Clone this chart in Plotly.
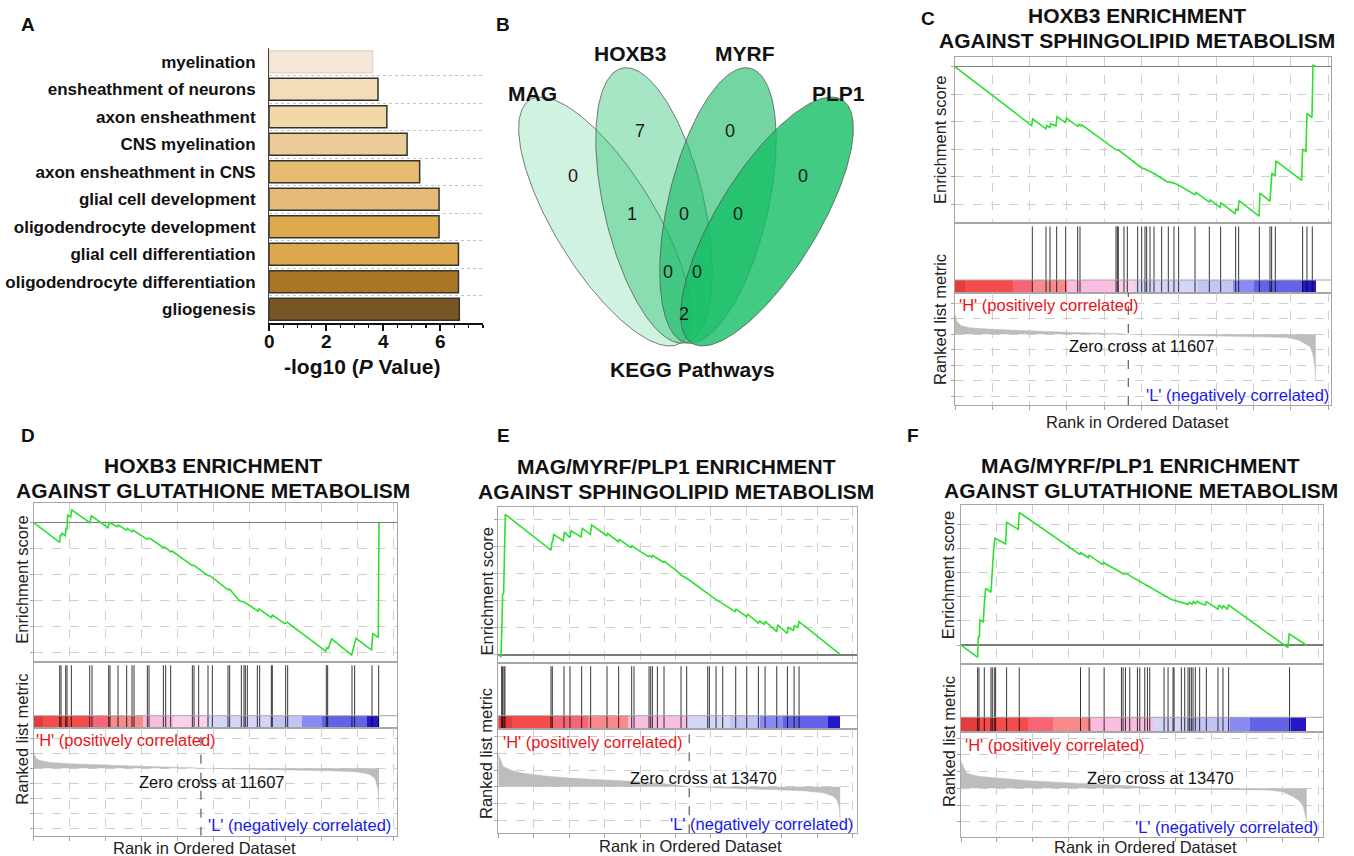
import numpy as np
import plotly.graph_objects as go

W, H = 1354, 856
FONT = "Liberation Sans, Arial, Helvetica, sans-serif"

# ---------------- Panel A data ----------------
go_terms = ["myelination", "ensheathment of neurons", "axon ensheathment", "CNS myelination",
            "axon ensheathment in CNS", "glial cell development", "oligodendrocyte development",
            "glial cell differentiation", "oligodendrocyte differentiation", "gliogenesis"]
go_neglog10p = [3.63, 3.82, 4.13, 4.84, 5.28, 5.96, 5.96, 6.64, 6.64, 6.67]
go_colors = ["#f6e8d8", "#f3ddb9", "#f2d7a8", "#ebcc98", "#e7bb72", "#e4bc78",
             "#dea94e", "#dda84c", "#a97625", "#7a5524"]
go_edges = ["#e6d6c6", "#333333", "#333333", "#333333", "#333333", "#333333",
            "#333333", "#333333", "#333333", "#333333"]
go_xticks = [0, 2, 4, 6]

# ---------------- Panel B data ----------------
venn_sets = ["MAG", "HOXB3", "MYRF", "PLP1"]
venn_counts = [0, 7, 0, 0, 1, 0, 0, 0, 0, 2]

# ---------------- GSEA colour bar palette ----------------
PALETTE = ["#e23c3c", "#f44b4b", "#f66676", "#f98a8b", "#f8bde0", "#fbd1ea",
           "#d5d5f8", "#c3c3f5", "#8a8af5", "#6363e8", "#2618c8"]

# ---------------- Panel C ----------------
C_es_rank = [0, 5136, 5203, 6096, 6141, 6364, 6409, 6766, 6833, 7391, 7458, 8217, 8284, 8418, 8485,
             10785, 10942, 12505, 12728, 13331, 14180, 14671, 14983, 16078, 16145, 17038, 17105,
             17752, 17819, 18757, 18824, 18958, 19025, 20365, 20432, 21102, 21169, 21236, 21437,
             21504, 23223, 23290, 23514, 23581, 23916, 23983, 24162]
C_es = [0, -0.214, -0.190, -0.226, -0.214, -0.221, -0.207, -0.215, -0.182, -0.203, -0.187, -0.217,
        -0.209, -0.215, -0.211, -0.302, -0.302, -0.368, -0.372, -0.388, -0.417, -0.423, -0.431,
        -0.465, -0.457, -0.492, -0.484, -0.511, -0.495, -0.534, -0.516, -0.523, -0.487, -0.543,
        -0.459, -0.489, -0.435, -0.386, -0.399, -0.342, -0.413, -0.301, -0.308, -0.170, -0.185,
        0.005, 0.002]
C_hits = [5181, 6096, 6364, 6811, 7414, 8218, 8374, 10786, 10875, 10942, 11321, 11545, 12237, 12505,
          12728, 12840, 13063, 13331, 13845, 14291, 14671, 14983, 16078, 17038, 17797, 18802, 19003,
          20388, 21102, 21213, 21459, 23290, 23581, 23938]
C_cb_edges = [0, 670, 3908, 5136, 7525, 10718, 12058, 16301, 18646, 20030, 23223, 24162]
C_cb_idx = [0, 1, 2, 3, 4, 5, 6, 7, 8, 9, 10]
C_met_rank = [0, 150, 400, 1000, 2500, 5000, 8000, 11000, 11607, 14000, 18000, 21000, 22200, 23000,
              23800, 24000, 24100, 24166]
C_met = [0.65, 0.40, 0.28, 0.21, 0.16, 0.11, 0.06, 0.02, 0, -0.02, -0.05, -0.09, -0.10, -0.18,
         -0.40, -0.70, -1.0, -1.5]
C_zero_cross = 11607

# ---------------- Panel D ----------------
D_es_rank = [0, 1804, 1850, 1920, 1966, 2197, 2244, 2313, 2359, 2567, 2637, 3886, 4001, 5158, 5251,
             5806, 5875, 6430, 6500, 6823, 6893, 7055, 7864, 7980, 8165, 8974, 9090, 9506, 9599,
             11010, 11102, 12097, 12213, 13485, 13600, 14294, 14526, 14641, 15566, 15636, 16492,
             16561, 17417, 17602, 17718, 20262, 20331, 20424, 20678, 22066, 22367, 23454, 23523,
             23916, 23962]
D_es = [0, -0.076, -0.047, -0.051, -0.041, -0.050, -0.022, -0.024, 0.029, 0.022, 0.049, 0.000, 0.026,
        -0.019, 0.001, -0.015, -0.009, -0.029, -0.022, -0.035, -0.028, -0.035, -0.063, -0.060, -0.064,
        -0.095, -0.094, -0.112, -0.109, -0.165, -0.163, -0.204, -0.203, -0.258, -0.256, -0.301,
        -0.304, -0.306, -0.340, -0.332, -0.365, -0.355, -0.388, -0.383, -0.388, -0.494, -0.479,
        -0.486, -0.447, -0.509, -0.445, -0.490, -0.426, -0.442, 0.000]
D_hits = [1804, 1897, 2220, 2313, 2614, 3886, 4048, 5204, 5297, 5852, 6453, 6823, 6962, 7887, 8003,
          8998, 9159, 9506, 11010, 11126, 11449, 12097, 12398, 13485, 13600, 14410, 14595, 14688,
          14826, 15520, 15682, 16492, 16561, 17486, 17625, 20308, 20401, 22089, 22274, 23477, 23940]
D_cb_edges = [0, 671, 3909, 5297, 7610, 9692, 12004, 16399, 18597, 19984, 23107, 23962]
D_cb_idx = [0, 1, 2, 3, 4, 5, 6, 7, 8, 9, 10]
D_met_rank = [0, 150, 400, 1000, 2500, 5000, 8000, 11000, 11607, 14000, 18000, 21000, 22500, 23300,
              23700, 23900, 23962]
D_met = [0.52, 0.35, 0.27, 0.20, 0.15, 0.10, 0.06, 0.02, 0, -0.02, -0.05, -0.09, -0.12, -0.20,
         -0.35, -0.70, -1.45]
D_zero_cross = 11607

# ---------------- Panel E ----------------
E_es_rank = [0, 188, 259, 306, 376, 447, 494, 3718, 3788, 3835, 3906, 4588, 4659, 5059, 5130, 5835,
             5930, 6494, 6588, 7647, 7718, 8471, 8541, 9365, 9436, 9600, 10589, 10706, 10824, 10894,
             11647, 11741, 12589, 12942, 13294, 14824, 14942, 15295, 16706, 16777, 17530, 17600,
             18353, 18424, 18777, 18848, 19648, 19719, 20378, 20448, 20824, 20895, 21130, 21224, 24118]
E_es = [0, -0.006, 0.111, 0.224, 0.228, 0.430, 0.519, 0.387, 0.418, 0.416, 0.445, 0.421, 0.453, 0.433,
        0.458, 0.435, 0.467, 0.445, 0.480, 0.440, 0.448, 0.418, 0.426, 0.396, 0.403, 0.396, 0.363,
        0.367, 0.360, 0.367, 0.342, 0.344, 0.310, 0.293, 0.283, 0.224, 0.221, 0.207, 0.160, 0.169,
        0.141, 0.150, 0.117, 0.125, 0.113, 0.123, 0.086, 0.111, 0.079, 0.101, 0.090, 0.108, 0.101,
        0.123, 0.002]
E_hits = [235, 306, 400, 471, 3718, 3812, 4635, 5059, 5883, 6518, 7671, 8494, 9412, 9577, 10636,
          10753, 10871, 11224, 11694, 12894, 13294, 14777, 14894, 15365, 15836, 16753, 17530, 18353,
          18824, 19648, 20401, 20871, 21224]
E_cb_edges = [0, 941, 3765, 6353, 9177, 13294, 16353, 18471, 20118, 23295, 24118]
E_cb_idx = [0, 1, 2, 3, 4, 6, 7, 8, 9, 10]
E_met_rank = [0, 70, 350, 1000, 1765, 3500, 5300, 7500, 10000, 12000, 13470, 16000, 19400, 21500,
              22900, 23600, 23900, 24050, 24124]
E_met = [1.0, 0.9, 0.6, 0.48, 0.4, 0.31, 0.25, 0.2, 0.15, 0.08, 0, -0.04, -0.08, -0.12, -0.18, -0.28,
         -0.4, -0.6, -1.0]
E_zero_cross = 13470

# ---------------- Panel F ----------------
F_es_rank = [0, 1165, 1212, 1282, 1328, 1561, 1631, 1724, 2097, 2190, 2283, 2377, 3122, 3192, 4008,
             4078, 8318, 8388, 8901, 8971, 9879, 9996, 10112, 11114, 11347, 11697, 11813, 14726,
             15075, 15891, 15984, 16170, 16263, 16403, 16543, 16706, 17102, 17172, 17988, 18058,
             18291, 18360, 18640, 18733, 22881, 22974, 24162]
F_es = [0, -0.051, 0.035, 0.032, 0.104, 0.097, 0.169, 0.235, 0.219, 0.335, 0.394, 0.443, 0.419, 0.509,
        0.480, 0.550, 0.376, 0.383, 0.362, 0.373, 0.335, 0.343, 0.337, 0.304, 0.295, 0.295, 0.288,
        0.189, 0.183, 0.169, 0.177, 0.169, 0.180, 0.172, 0.181, 0.174, 0.166, 0.180, 0.149, 0.166,
        0.152, 0.163, 0.149, 0.166, -0.011, 0.046, 0.000]
F_hits = [1165, 1258, 1631, 2097, 2190, 2330, 2423, 3192, 4078, 8365, 8971, 10019, 11231, 11347,
          11510, 11813, 12349, 12512, 12862, 13048, 13211, 14213, 14493, 14842, 14912, 15425, 15658,
          15891, 16007, 16124, 16240, 16403, 16706, 17172, 17988, 18337, 18733, 22997]
F_cb_edges = [0, 1095, 4707, 6454, 9134, 13444, 15891, 18803, 20201, 23114, 24162]
F_cb_idx = [0, 1, 2, 3, 4, 6, 7, 8, 9, 10]
F_met_rank = [0, 47, 397, 1200, 2730, 5000, 7397, 10000, 12063, 13470, 16000, 19000, 21397, 22500,
              23263, 23700, 23963, 24197]
F_met = [0.8, 0.75, 0.45, 0.36, 0.3, 0.22, 0.17, 0.12, 0.07, 0, -0.03, -0.04, -0.05, -0.1, -0.25,
         -0.38, -0.55, -1.0]
F_zero_cross = 13470

titles = {
    "C": ["HOXB3 ENRICHMENT", "AGAINST SPHINGOLIPID METABOLISM"],
    "D": ["HOXB3 ENRICHMENT", "AGAINST GLUTATHIONE METABOLISM"],
    "E": ["MAG/MYRF/PLP1 ENRICHMENT", "AGAINST SPHINGOLIPID METABOLISM"],
    "F": ["MAG/MYRF/PLP1 ENRICHMENT", "AGAINST GLUTATHIONE METABOLISM"],
}

# ====================== layout helpers ======================
def fx(px):
    return px / W


def fy(py):
    return 1 - py / H


layout = {}
traces = []
shapes = []
annotations = []
axis_id = [0]


def add_axes(l, r, t, b, xkw, ykw):
    axis_id[0] += 1
    n = axis_id[0]
    s = "" if n == 1 else str(n)
    layout["xaxis" + s] = dict(domain=[fx(l), fx(r)], anchor="y" + s, **xkw)
    layout["yaxis" + s] = dict(domain=[fy(b), fy(t)], anchor="x" + s, **ykw)
    return "x" + s, "y" + s


def ann(text, px, py, size, color="#111111", xanchor="center", yanchor="middle", angle=0):
    annotations.append(dict(text=text, x=fx(px), y=fy(py), xref="paper", yref="paper",
                            xanchor=xanchor, yanchor=yanchor, showarrow=False, textangle=angle,
                            font=dict(family=FONT, size=size, color=color)))


# ====================== Panel A ======================
xa, ya = add_axes(269, 483, 48, 323,
                  dict(range=[0, 7.5], showline=True, linecolor="#111111", linewidth=2,
                       ticks="outside", ticklen=6, tickwidth=2, tickcolor="#111111",
                       tickvals=go_xticks, showticklabels=False, showgrid=False, zeroline=False,
                       minor=dict(ticks="outside", ticklen=3, tickwidth=1.2, tickcolor="#111111",
                                  tick0=0, dtick=0.5, showgrid=False)),
                  dict(range=[9.5, -0.5], showline=True, linecolor="#444444", linewidth=1,
                       tickvals=list(range(len(go_terms))), ticktext=go_terms,
                       ticks="outside", ticklen=9, tickcolor="rgba(0,0,0,0)",
                       showgrid=False, zeroline=False,
                       tickfont=dict(family=FONT, size=17, color="#111111", weight="bold"),
                       minor=dict(tickvals=[i + 0.5 for i in range(len(go_terms) - 1)],
                                  showgrid=True, gridcolor="#c4c4c4", griddash="dot", gridwidth=1)))
traces.append(go.Bar(x=go_neglog10p, y=list(range(len(go_terms))), orientation="h", width=0.8,
                     marker=dict(color=go_colors, line=dict(color=go_edges, width=1.5)),
                     xaxis=xa, yaxis=ya, hoverinfo="skip"))
for t in go_xticks:
    annotations.append(dict(text="<b>%d</b>" % t, x=t, y=fy(341.5), xref=xa, yref="paper",
                            xanchor="center", yanchor="middle", showarrow=False,
                            font=dict(family=FONT, size=19, color="#111111")))
ann("<b>-log10 (<i>P</i> Value)</b>", 361.7, 366.7, 21)
ann("<b>A</b>", 28, 25, 19)

# ====================== Panel B (Venn) ======================
xa, ya = add_axes(490, 900, 40, 390,
                  dict(range=[490, 900], visible=False, fixedrange=True),
                  dict(range=[390, 40], visible=False, fixedrange=True))


def ellipse(cx, cy, a, b, ang_deg, n=240):
    t = np.linspace(0, 2 * np.pi, n)
    th = np.radians(ang_deg)
    x = cx + a * np.cos(t) * np.cos(th) - b * np.sin(t) * np.sin(th)
    y = cy + a * np.cos(t) * np.sin(th) + b * np.sin(t) * np.cos(th)
    return x, y


venn_geom = [(605, 221.5, 143, 50, 58.3), (654, 205.5, 141, 50, 76.9),
             (718, 205.5, 141, 50, 103.1), (767, 221.5, 143, 50, 121.7)]
venn_fill = ["rgba(20,190,100,0.20)", "rgba(20,190,100,0.38)",
             "rgba(20,185,100,0.60)", "rgba(20,190,100,0.80)"]
for (cx, cy, a, b, ang), fc in zip(venn_geom, venn_fill):
    ex, ey = ellipse(cx, cy, a, b, ang)
    traces.append(go.Scatter(x=ex, y=ey, mode="lines", fill="toself", fillcolor=fc,
                             line=dict(color="rgba(80,80,80,0.75)", width=1),
                             xaxis=xa, yaxis=ya, hoverinfo="skip"))
venn_num_pos = [(573, 177), (640, 132), (730, 132), (803, 177), (632, 215), (684, 215),
                (738, 215), (668, 273), (697, 273), (684, 315)]
traces.append(go.Scatter(x=[p[0] for p in venn_num_pos], y=[p[1] for p in venn_num_pos],
                         mode="text", text=[str(c) for c in venn_counts],
                         textfont=dict(family=FONT, size=18, color="#1a1a1a"),
                         xaxis=xa, yaxis=ya, hoverinfo="skip"))
venn_label_pos = [(532, 93), (630, 53), (745, 53), (838, 93)]
for name, (px, py) in zip(venn_sets, venn_label_pos):
    ann("<b>%s</b>" % name, px, py, 21)
ann("<b>KEGG Pathways</b>", 692, 370, 21)
ann("<b>B</b>", 503, 25, 19)

# ====================== GSEA panels ======================
FRAME = "#a6a6a6"
GRID = "#cfcfcf"
HIT_TOP = 0.955

gsea = [
    dict(key="C", es_rank=C_es_rank, es=C_es, hits=C_hits, cb_edges=C_cb_edges, cb_idx=C_cb_idx,
         met_rank=C_met_rank, met=C_met, zc=C_zero_cross, zc_line=True,
         left=955, right=1331, es_top=57.3, es_bot=223.3, cb_top=280, hit_bot=292.7, met_bot=405,
         xr=25190, es_range=[-0.569, 0.034], met_range=[-2.281, 1.342],
         title_x=1137, t1=15, t2=40, es_lab=(940, 140), met_lab=(940, 320), xt=(1137, 421.7),
         H=(957, 305), L=(1331, 395), zct=(1141.7, 345.7), letter=(928, 18)),
    dict(key="D", es_rank=D_es_rank, es=D_es, hits=D_hits, cb_edges=D_cb_edges, cb_idx=D_cb_idx,
         met_rank=D_met_rank, met=D_met, zc=D_zero_cross, zc_line=True,
         left=33.7, right=396.7, es_top=503.3, es_bot=662.3, cb_top=715.7, hit_bot=728.3, met_bot=835.7,
         xr=25192, es_range=[-0.537, 0.0746], met_range=[-2.247, 1.333],
         title_x=213, t1=465, t2=490.7, es_lab=(21.7, 580), met_lab=(21.7, 739), xt=(204, 847.5),
         H=(34, 740), L=(392.7, 825), zct=(211.7, 781.7), letter=(28, 435)),
    dict(key="E", es_rank=E_es_rank, es=E_es, hits=E_hits, cb_edges=E_cb_edges, cb_idx=E_cb_idx,
         met_rank=E_met_rank, met=E_met, zc=E_zero_cross, zc_line=True,
         left=498.3, right=856.7, es_top=506.7, es_bot=663.3, cb_top=715.7, hit_bot=729.3, met_bot=833.3,
         xr=25290, es_range=[-0.031, 0.547], met_range=[-1.395, 1.719],
         title_x=676, t1=466.7, t2=491.7, es_lab=(486.7, 591.7), met_lab=(486.7, 753.3),
         xt=(690.7, 846), H=(501, 741.7), L=(855, 824), zct=(703.3, 778.3), letter=(503, 435)),
    dict(key="F", es_rank=F_es_rank, es=F_es, hits=F_hits, cb_edges=F_cb_edges, cb_idx=F_cb_idx,
         met_rank=F_met_rank, met=F_met, zc=F_zero_cross, zc_line=False,
         left=961, right=1323.3, es_top=505, es_bot=664.3, cb_top=717.3, hit_bot=731.7, met_bot=836.7,
         xr=25360, es_range=[-0.080, 0.581], met_range=[-1.449, 1.695],
         title_x=1140.5, t1=465, t2=490, es_lab=(948.3, 575), met_lab=(948.3, 741.7),
         xt=(1145, 846.5), H=(962.7, 745), L=(1320, 826.7), zct=(1160.7, 778.3), letter=(913, 435)),
]

for g in gsea:
    l, r = g["left"], g["right"]
    xbase = dict(range=[0, g["xr"]], showticklabels=False, showline=True, mirror=True,
                 linecolor=FRAME, linewidth=1, zeroline=False, fixedrange=True)
    # --- running enrichment score ---
    xa, ya = add_axes(l, r, g["es_top"], g["es_bot"],
                      dict(xbase, showgrid=True, gridcolor=GRID, griddash="dash", gridwidth=1,
                           tick0=0, dtick=2500, ticks=""),
                      dict(range=g["es_range"], showticklabels=False, showline=True, mirror=True,
                           linecolor=FRAME, showgrid=True, gridcolor=GRID, griddash="dash",
                           tick0=0, dtick=0.1, zeroline=True, zerolinecolor="#7c7c7c",
                           zerolinewidth=1.5, ticks="outside", ticklen=3, tickcolor=FRAME,
                           fixedrange=True))
    traces.append(go.Scatter(x=g["es_rank"], y=g["es"], mode="lines",
                             line=dict(color="#2ee02e", width=1.6),
                             xaxis=xa, yaxis=ya, hoverinfo="skip"))
    # --- hits + colour bar ---
    xa, ya = add_axes(l, r, g["es_bot"], g["hit_bot"],
                      dict(xbase, showgrid=False, ticks=""),
                      dict(range=[0, 1], showticklabels=False, showline=True, mirror=True,
                           linecolor=FRAME, showgrid=False, zeroline=False, ticks="",
                           fixedrange=True))
    cb_h = (g["hit_bot"] - g["cb_top"]) / (g["hit_bot"] - g["es_bot"])
    edges = np.array(g["cb_edges"], dtype=float)
    traces.append(go.Bar(orientation="h", y=[cb_h / 2] * (len(edges) - 1), x=np.diff(edges),
                         base=edges[:-1], width=cb_h,
                         marker=dict(color=[PALETTE[i] for i in g["cb_idx"]], line=dict(width=0)),
                         xaxis=xa, yaxis=ya, hoverinfo="skip"))
    hx, hy = [], []
    for h in g["hits"]:
        hx += [h, h, None]
        hy += [0, HIT_TOP, None]
    traces.append(go.Scatter(x=hx, y=hy, mode="lines", line=dict(color="rgba(0,0,0,0.78)", width=1),
                             xaxis=xa, yaxis=ya, hoverinfo="skip"))
    shapes.append(dict(type="line", xref=xa + " domain", yref=ya, x0=0, x1=1, y0=cb_h, y1=cb_h,
                       line=dict(color=FRAME, width=1)))
    # --- ranked list metric ---
    xa, ya = add_axes(l, r, g["hit_bot"], g["met_bot"],
                      dict(xbase, showgrid=True, gridcolor=GRID, griddash="dash", gridwidth=1,
                           tick0=0, dtick=2500, ticks="outside", ticklen=4, tickcolor=FRAME),
                      dict(range=g["met_range"], showticklabels=False, showline=True, mirror=True,
                           linecolor=FRAME, showgrid=True, gridcolor=GRID, griddash="dash",
                           tick0=0, dtick=0.5, zeroline=False, ticks="outside", ticklen=3,
                           tickcolor=FRAME, fixedrange=True))
    traces.append(go.Scatter(x=g["met_rank"], y=g["met"], mode="lines", fill="tozeroy",
                             fillcolor="#bdbdbd", line=dict(color="#bdbdbd", width=0.5),
                             xaxis=xa, yaxis=ya, hoverinfo="skip"))
    if g["zc_line"]:
        traces.append(go.Scatter(x=[g["zc"], g["zc"]], y=g["met_range"], mode="lines",
                                 line=dict(color="#3c3c3c", width=1, dash="dash"),
                                 xaxis=xa, yaxis=ya, hoverinfo="skip"))
    # --- texts ---
    t1, t2 = titles[g["key"]]
    ann("<b>%s</b>" % t1, g["title_x"], g["t1"], 21)
    ann("<b>%s</b>" % t2, g["title_x"], g["t2"], 21)
    ann("Enrichment score", g["es_lab"][0], g["es_lab"][1], 16.5, "#222222", angle=-90)
    ann("Ranked list metric", g["met_lab"][0], g["met_lab"][1], 16.5, "#222222", angle=-90)
    ann("Rank in Ordered Dataset", g["xt"][0], g["xt"][1], 16.5, "#222222")
    ann("'H' (positively correlated)", g["H"][0], g["H"][1], 16.5, "#e8161b", xanchor="left")
    ann("'L' (negatively correlated)", g["L"][0], g["L"][1], 16.5, "#1a1ae6", xanchor="right")
    ann("Zero cross at %d" % g["zc"], g["zct"][0], g["zct"][1], 16.5, "#111111")
    ann("<b>%s</b>" % g["key"], g["letter"][0], g["letter"][1], 19)

fig = go.Figure(data=traces)
fig.update_layout(**layout)
fig.update_layout(width=W, height=H, autosize=False, margin=dict(l=0, r=0, t=0, b=0, pad=0),
                  paper_bgcolor="white", plot_bgcolor="white", showlegend=False,
                  font=dict(family=FONT, color="#111111"),
                  annotations=annotations, shapes=shapes, bargap=0, hovermode=False)
fig.write_html("out.html", config={"displayModeBar": False, "staticPlot": True},
               post_script="document.body.style.margin='0';document.body.style.overflow='hidden';")
